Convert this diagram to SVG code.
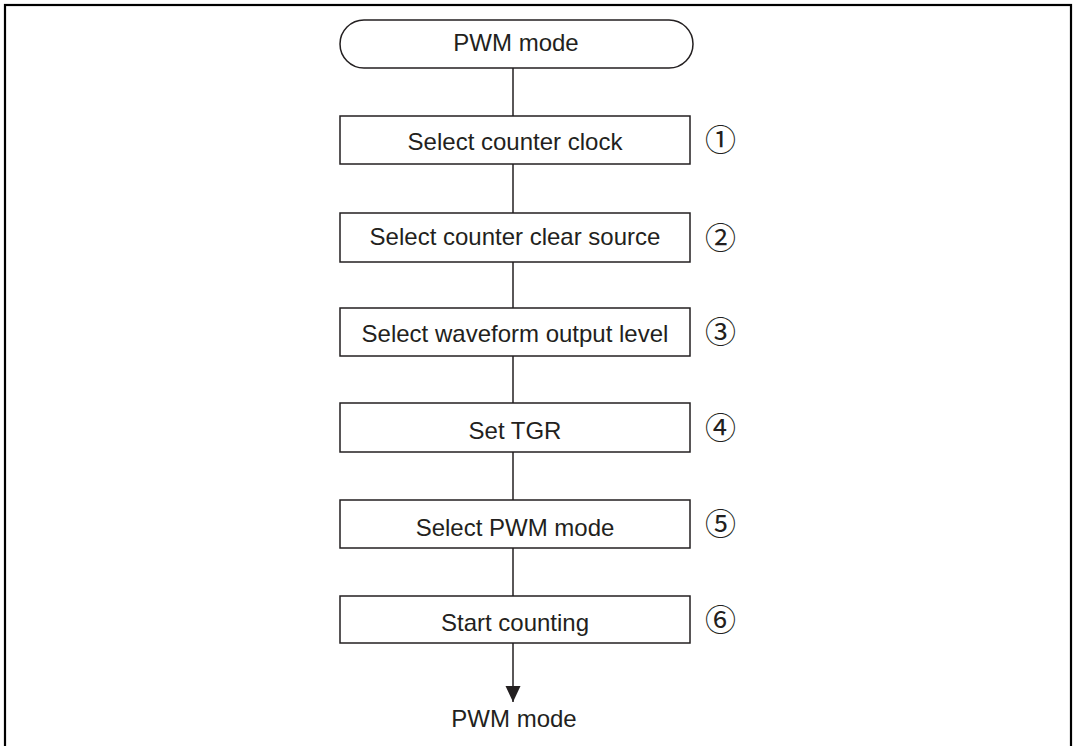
<svg xmlns="http://www.w3.org/2000/svg" width="1076" height="746" viewBox="0 0 1076 746">
<defs>
<style>
.box{fill:#fff;stroke:#231f20;stroke-width:1.5}
.lbl{font-family:"Liberation Sans",Arial,sans-serif;font-size:24px;fill:#231f20;text-anchor:middle}
.num{font-family:"Noto Sans CJK JP","DejaVu Sans",sans-serif;font-size:31px;fill:#231f20;text-anchor:middle}
.con{stroke:#231f20;stroke-width:1.5;fill:none}
</style>
<marker id="arr" markerWidth="16" markerHeight="16" viewBox="0 0 16 16" refX="16" refY="8" orient="auto" markerUnits="userSpaceOnUse">
<path d="M0,0.5 L16,8 L0,15.5 Z" fill="#231f20"/>
</marker>
</defs>
<rect width="1076" height="746" fill="#fff"/>
<rect x="5" y="5" width="1066" height="760" fill="none" stroke="#000" stroke-width="2.2"/>
<g id="connectors">
<line class="con" x1="513" y1="68" x2="513" y2="116"/>
<line class="con" x1="513" y1="164" x2="513" y2="213"/>
<line class="con" x1="513" y1="262" x2="513" y2="308"/>
<line class="con" x1="513" y1="356" x2="513" y2="403"/>
<line class="con" x1="513" y1="452" x2="513" y2="500"/>
<line class="con" x1="513" y1="548" x2="513" y2="596"/>
<line class="con" x1="513" y1="643" x2="513" y2="702" marker-end="url(#arr)"/>
</g>
<g id="start">
<rect class="box" x="340" y="20" width="353" height="48" rx="24" ry="24"/>
<text class="lbl" x="516" y="51">PWM mode</text>
</g>
<g id="step1">
<rect class="box" x="340" y="116" width="350" height="48"/>
<text class="lbl" x="515" y="149.5">Select counter clock</text>
<text class="num" x="720.5" y="151">①</text>
</g>
<g id="step2">
<rect class="box" x="340" y="213" width="350" height="49"/>
<text class="lbl" x="515" y="244.5">Select counter clear source</text>
<text class="num" x="720.5" y="248.5">②</text>
</g>
<g id="step3">
<rect class="box" x="340" y="308" width="350" height="48"/>
<text class="lbl" x="515" y="341.5">Select waveform output level</text>
<text class="num" x="720.5" y="343">③</text>
</g>
<g id="step4">
<rect class="box" x="340" y="403" width="350" height="49"/>
<text class="lbl" x="515" y="439">Set TGR</text>
<text class="num" x="720.5" y="438.5">④</text>
</g>
<g id="step5">
<rect class="box" x="340" y="500" width="350" height="48"/>
<text class="lbl" x="515" y="535.5">Select PWM mode</text>
<text class="num" x="720.5" y="535">⑤</text>
</g>
<g id="step6">
<rect class="box" x="340" y="596" width="350" height="47"/>
<text class="lbl" x="515" y="630.5">Start counting</text>
<text class="num" x="720.5" y="630.5">⑥</text>
</g>
<g id="end">
<text class="lbl" x="514" y="727">PWM mode</text>
</g>
</svg>
